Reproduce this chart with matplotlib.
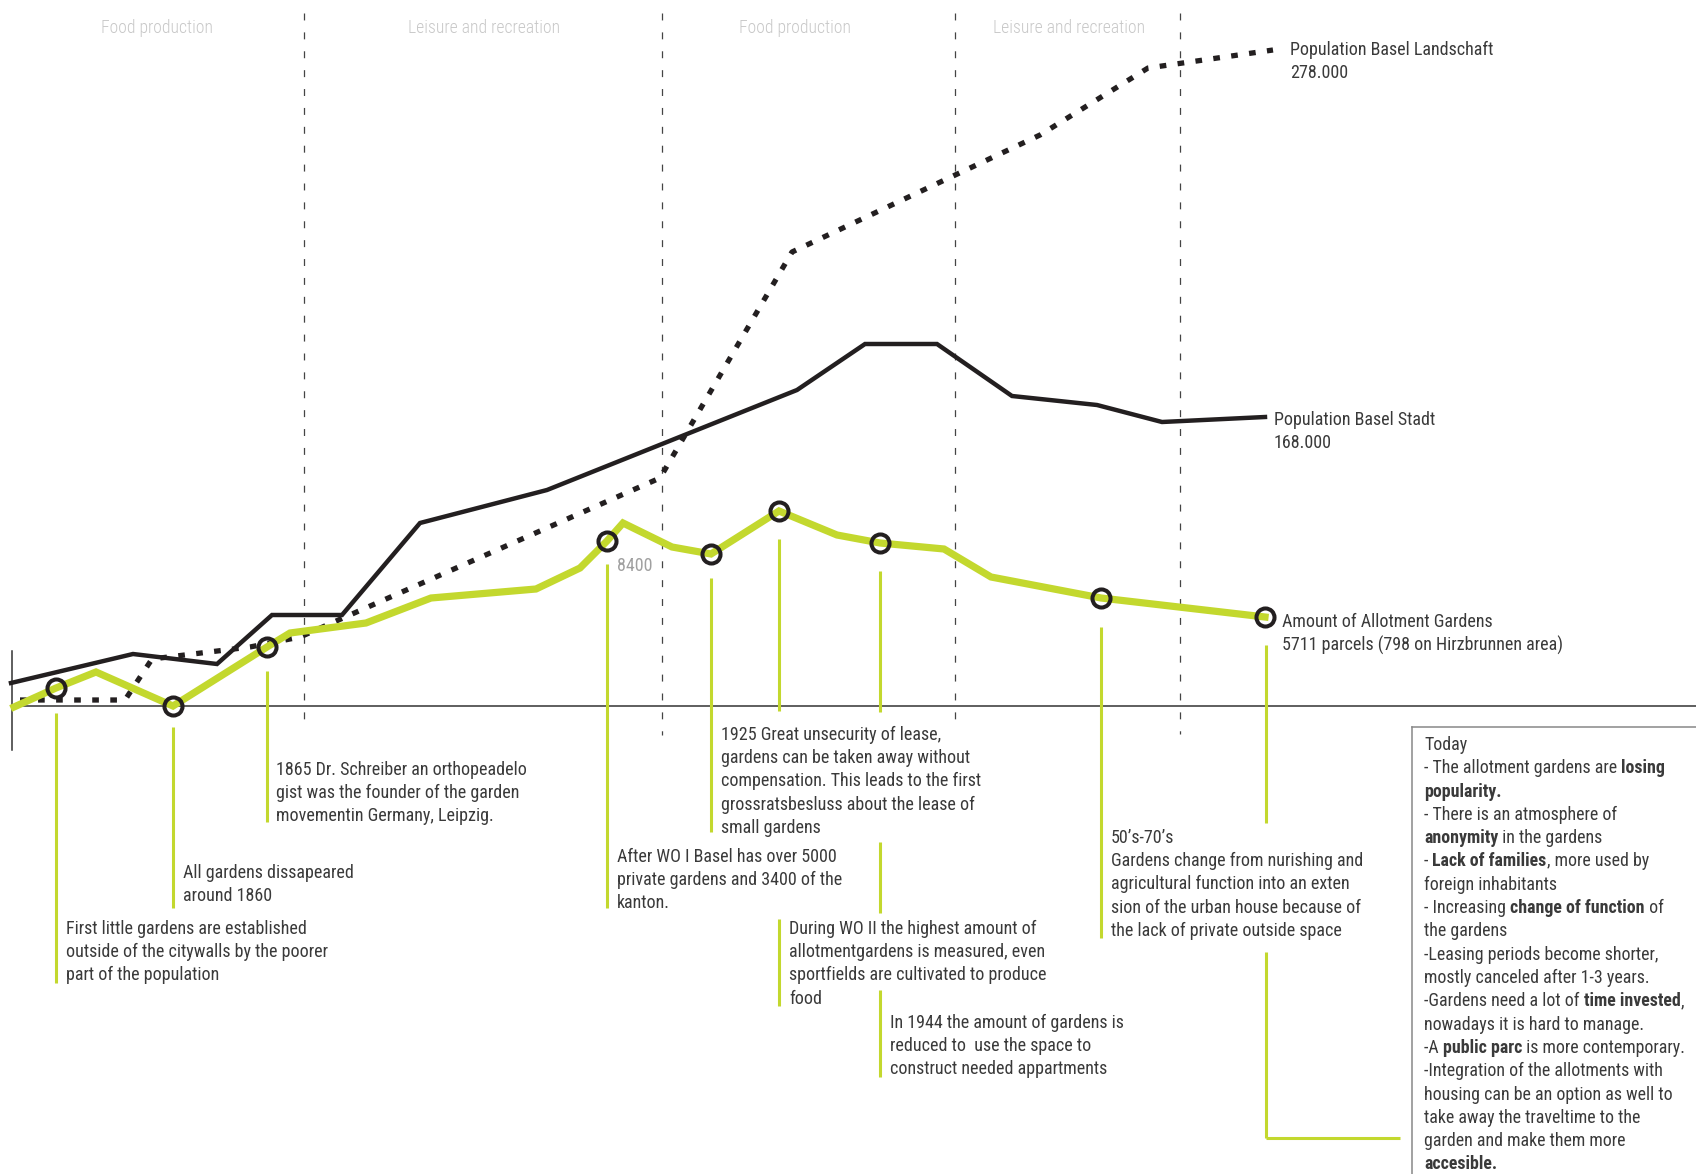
import matplotlib
matplotlib.use("Agg")
import matplotlib.pyplot as plt
import matplotlib.transforms as mtransforms
from matplotlib import font_manager

# ---------------- data ----------------
# horizontal position unit = pixel column of the original graphic,
# values = height above the zero baseline
garden_x = [14, 56, 96, 173, 267, 290, 366, 431, 536, 580, 607, 623, 672, 711,
            779, 837, 880, 944, 991, 1101, 1265]
garden_v = [-1, 18, 34, 0, 59, 73, 83, 108, 117, 138, 165, 183, 159, 152,
            195, 171, 163, 157, 129, 108, 89]
garden_marked = [1, 3, 4, 10, 13, 14, 16, 19, 20]

stadt_x = [11, 133, 217, 272, 342, 420, 547, 797, 865, 937, 1012, 1097, 1162, 1265]
stadt_v = [23, 52, 42, 91, 91, 183, 216, 316, 362, 362, 310, 301, 284, 289]

land_x = [20, 125, 152, 250, 300, 660, 792, 1040, 1148, 1273]
land_v = [6, 6, 47, 59, 69, 228, 454, 571, 638, 656]

period_x = [304, 662, 955, 1180]
period_bottom = [720, 735, 726, 734]
period_labels = ["Food production", "Leisure and recreation",
                 "Food production", "Leisure and recreation"]
period_label_x = [157, 484, 795, 1069]

# ---------------- layout ----------------
W, H = 1696, 1174
BASE = 706


def py(ypx):
    return BASE - ypx


# ---- font choice: prefer a condensed face, else Roboto ----
entries = font_manager.fontManager.ttflist
names = {f.name for f in entries}
FONTKW = None
for cand in ["Liberation Sans Narrow", "Roboto Condensed", "Open Sans Condensed",
             "Noto Sans Condensed", "DejaVu Sans Condensed"]:
    if cand in names:
        FONTKW = dict(family=cand)
        break
if FONTKW is None:
    narrow = sorted(n for n in names if ("Narrow" in n or "Condensed" in n)
                    and "Mono" not in n and "Serif" not in n)
    if narrow:
        FONTKW = dict(family=narrow[0])
if FONTKW is None:
    if any(f.name == "DejaVu Sans" and f.stretch == "condensed" for f in entries):
        FONTKW = dict(family="DejaVu Sans", stretch="condensed")
if FONTKW is None:
    FONTKW = dict(family="Roboto" if "Roboto" in names else "DejaVu Sans")

GREEN = "#c3d82e"
BLACK = "#231f20"
TXT = "#3a3a3a"

plt.rcParams["lines.scale_dashes"] = False
fig = plt.figure(figsize=(W / 100, H / 100), dpi=100)
ax = fig.add_axes([0, 0, 1, 1])
ax.set_xlim(0, W)
ax.set_ylim(BASE - H, BASE)
ax.axis("off")
renderer = fig.canvas.get_renderer()


def run_width(s, size, weight="normal"):
    t1 = ax.text(0, 0, "|" + s + "|", fontsize=size, weight=weight, **FONTKW)
    t2 = ax.text(0, 0, "||", fontsize=size, weight=weight, **FONTKW)
    w = t1.get_window_extent(renderer).width - t2.get_window_extent(renderer).width
    t1.remove()
    t2.remove()
    return w


def fit_size(sample, target_px, weight="normal"):
    return 20.0 * target_px / run_width(sample, 20.0, weight)


FS = fit_size("First little gardens are established", 242)
FS_HEAD = fit_size("Leisure and recreation", 155)
FS_BOX = fit_size("-Leasing periods become shorter,", 234)

# period separators
for x, yb in zip(period_x, period_bottom):
    ax.plot([x, x], [py(13), py(yb)], color="#444444", lw=0.9,
            linestyle=(0, (5, 8.6)), zorder=1)
for lbl, x in zip(period_labels, period_label_x):
    ax.text(x, py(28), lbl, ha="center", va="center", fontsize=FS_HEAD,
            color="#c8c8c8", weight="light", **FONTKW)

# baseline and left axis stub
ax.plot([11, W], [0, 0], color="#333333", lw=1.1, zorder=2)
ax.plot([12, 12], [py(651), py(750)], color="#333333", lw=1.1, zorder=2)

# series
ax.plot(land_x, land_v, color=BLACK, lw=3.8, linestyle=(0, (4.8, 8.2)),
        solid_capstyle="butt", dash_capstyle="butt", zorder=3)
ax.plot(stadt_x, stadt_v, color=BLACK, lw=3.2, solid_joinstyle="miter",
        zorder=4)
ax.plot(garden_x, garden_v, color=GREEN, lw=5.2, solid_joinstyle="miter",
        zorder=5)
ax.plot([garden_x[i] for i in garden_marked], [garden_v[i] for i in garden_marked],
        linestyle="none", marker="o", ms=13, mew=2.9, mfc="none", mec=BLACK,
        zorder=6)

# drop lines (visible segments) for the annotations
drops = [
    (56, [(713, 983)]),
    (173, [(727, 908)]),
    (267, [(671, 822)]),
    (607, [(564, 908)]),
    (711, [(578, 832)]),
    (779, [(539, 711), (919, 1006)]),
    (880, [(571, 712), (842, 913), (990, 1077)]),
    (1101, [(627, 938)]),
    (1266, [(645, 823), (952, 1138)]),
]
for x, segs in drops:
    for a, b in segs:
        ax.plot([x, x], [py(a), py(b)], color=GREEN, lw=2.2,
                solid_capstyle="butt", zorder=2)
ax.plot([1266, 1400], [py(1138), py(1138)], color=GREEN, lw=2.2,
        solid_capstyle="butt", zorder=2)

# annotations
LS = 23.2
notes = [
    (66, 929, ["First little gardens are established",
               "outside of the citywalls by the poorer",
               "part of the population"]),
    (183, 873, ["All gardens dissapeared", "around 1860"]),
    (276, 770, ["1865 Dr. Schreiber an orthopeadelo",
                "gist was the founder of the garden",
                "movementin Germany, Leipzig."]),
    (617, 857, ["After WO I Basel has over 5000",
                "private gardens and 3400 of the", "kanton."]),
    (721, 735, ["1925 Great unsecurity of lease,",
                "gardens can be taken away without",
                "compensation. This leads to the first",
                "grossratsbesluss about the lease of", "small gardens"]),
    (789, 929, ["During WO II the highest amount of",
                "allotmentgardens is measured, even",
                "sportfields are cultivated to produce", "food"]),
    (890, 1023, ["In 1944 the amount of gardens is",
                 "reduced to  use the space to",
                 "construct needed appartments"]),
    (1111, 838, ["50\u2019s-70\u2019s", "Gardens change from nurishing and",
                 "agricultural function into an exten",
                 "sion of the urban house because of",
                 "the lack of private outside space"]),
    (1290, 50, ["Population Basel Landschaft", "278.000"]),
    (1274, 420, ["Population Basel Stadt", "168.000"]),
    (1282, 622, ["Amount of Allotment Gardens",
                 "5711 parcels (798 on Hirzbrunnen area)"]),
]
for x, y0, lines in notes:
    for k, s in enumerate(lines):
        ax.text(x, py(y0 + k * LS), s, ha="left", va="center", fontsize=FS,
                color=TXT, zorder=7, **FONTKW)

ax.text(617, py(566), "8400", ha="left", va="center", fontsize=FS,
        color="#a0a0a0", zorder=7, **FONTKW)

# "Today" box
ax.plot([1412, 1412], [py(727), py(H + 5)], color="#888888", lw=1.1, zorder=2)
ax.plot([1412, W + 5], [py(727), py(727)], color="#888888", lw=1.1, zorder=2)

box_lines = [
    "Today",
    "- The allotment gardens are **losing**",
    "**popularity.**",
    "- There is an atmosphere of",
    "**anonymity** in the gardens",
    "- **Lack of families**, more used by",
    "foreign inhabitants",
    "- Increasing **change of function** of",
    "the gardens",
    "-Leasing periods become shorter,",
    "mostly canceled after 1-3 years.",
    "-Gardens need a lot of **time invested**,",
    "nowadays it is hard to manage.",
    "-A **public parc** is more contemporary.",
    "-Integration of the allotments with",
    "housing can be an option as well to",
    "take away the traveltime to the",
    "garden and make them more",
    "**accesible.**",
]

for k, line in enumerate(box_lines):
    parts = line.split("**")
    dx = 0.0
    for j, part in enumerate(parts):
        if not part:
            continue
        weight = "bold" if j % 2 == 1 else "normal"
        tr = mtransforms.offset_copy(ax.transData, fig=fig, x=dx, y=0, units="dots")
        ax.text(1424, py(745 + k * 23.3), part, transform=tr, ha="left",
                va="center", fontsize=FS_BOX, weight=weight,
                color=TXT, zorder=7, **FONTKW)
        dx += run_width(part, FS_BOX, weight)

fig.savefig("out.png", dpi=100, facecolor="white")
